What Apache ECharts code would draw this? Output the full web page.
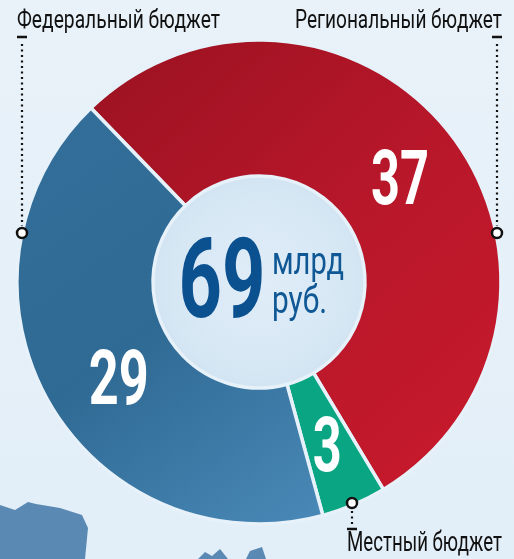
<!DOCTYPE html>
<html><head><meta charset="utf-8">
<script src="https://cdn.jsdelivr.net/npm/echarts@6/dist/echarts.min.js"></script>
<style>html,body{margin:0;padding:0;background:#e4eff8;}#c{width:514px;height:559px;}</style>
</head><body><div id="c"></div>
<script>
const categories = ['Региональный бюджет', 'Местный бюджет', 'Федеральный бюджет'];
const values = [37, 3, 29];
const unitLines = ['млрд', 'руб.'];

const FONT = "Roboto";
const total = values.reduce((a, b) => a + b, 0);
const CX = 259, CY = 282, R = 242, RI = 106;

const colors = [
  {type:'linear',x:0,y:0,x2:1,y2:1,colorStops:[{offset:0,color:'#9a1220'},{offset:0.5,color:'#b8172a'},{offset:1,color:'#c81a2c'}]},
  '#0aa684',
  {type:'linear',x:0,y:0,x2:1,y2:1,colorStops:[{offset:0,color:'#336f9a'},{offset:0.5,color:'#2f6a94'},{offset:1,color:'#4a89b8'}]}
];
// small designer nudges of value labels (px)
const labelNudge = [[3, 9], [0, 10], [11, 17]];
// target ink widths used to emulate the condensed typeface
const labelWidth = [58, 29, 60];

const mctx = document.createElement('canvas').getContext('2d');
function sx(text, font, target) {
  mctx.font = font;
  const w = mctx.measureText(text).width;
  return w > 0 ? target / w : 1;
}
function ctext(text, x, y, size, weight, fill, align, target) {
  const font = weight + ' ' + size + 'px ' + FONT;
  return {type:'text', x:x, y:y, scaleX: sx(text, font, target), z:20,
    style:{text:text, font:font, fill:fill, textAlign:align, textVerticalAlign:'middle'}};
}
function dotted(x, y1, y2) {
  return {type:'line', shape:{x1:x, y1:y1, x2:x, y2:y2}, style:{stroke:'#111', lineWidth:2.2, lineDash:[2, 3.5]}, z:10};
}
function tick(x, y) {
  return {type:'line', shape:{x1:x-5, y1:y, x2:x+5, y2:y}, style:{stroke:'#111', lineWidth:2.5}, z:10};
}
function ring(x, y) {
  return {type:'circle', shape:{cx:x, cy:y, r:5}, style:{fill:'#fff', stroke:'#111', lineWidth:2.5}, z:11};
}

const chart = echarts.init(document.getElementById('c'), null, {renderer:'canvas'});

chart.setOption({
  backgroundColor: {type:'linear',x:0,y:0,x2:0,y2:1,colorStops:[{offset:0,color:'#e9f2f9'},{offset:1,color:'#e2eef8'}]},
  animation: false,
  series: [
    {
      type: 'pie',
      center: [CX, CY],
      radius: [0, RI],
      silent: true,
      z: 1,
      label: {show:false},
      labelLine: {show:false},
      itemStyle: {borderWidth: 0, color: {type:'radial',x:0.5,y:0.5,r:0.5,colorStops:[{offset:0,color:'#e0edf8'},{offset:0.85,color:'#d6e7f4'},{offset:1,color:'#d2e4f2'}]}},
      data: [{value: 1}]
    },
    {
      type: 'pie',
      center: [CX, CY],
      radius: [RI, R],
      startAngle: 134,
      clockwise: true,
      z: 2,
      itemStyle: {borderColor: '#e6f1f9', borderWidth: 3.5},
      label: {show: false},
      labelLine: {show:false},
      data: categories.map((c, i) => ({name: c, value: values[i], itemStyle: {color: colors[i]}}))
    }
  ]
});

// value labels placed from the pie's own layout
const pieData = chart.getModel().getSeriesByIndex(1).getData();
const valueLabels = [];
for (let i = 0; i < values.length; i++) {
  const L = pieData.getItemLayout(i);
  const mid = (L.startAngle + L.endAngle) / 2;
  const rm = (L.r + L.r0) / 2;
  const x = L.cx + Math.cos(mid) * rm + labelNudge[i][0];
  const y = L.cy + Math.sin(mid) * rm + labelNudge[i][1];
  valueLabels.push(ctext(String(values[i]), x, y, 76, 'bold', '#ffffff', 'center', labelWidth[i]));
}

chart.setOption({
  graphic: [
    // background hills
    {type:'polygon', shape:{points:[[0,505],[15,510],[28,502],[36,504],[60,508],[82,515],[88,528],[85,559],[0,559]]}, style:{fill:'#5a8ab4'}, z:0},
    {type:'polygon', shape:{points:[[198,559],[205,552],[212,556],[220,549],[228,559]]}, style:{fill:'#5a8ab4'}, z:0},
    {type:'polygon', shape:{points:[[246,559],[250,551],[262,547],[266,559]]}, style:{fill:'#5a8ab4'}, z:0},
    // center text
    ctext(String(total), 222, 289, 112, 'bold', '#0b5190', 'center', 87),
    ctext(unitLines[0], 272, 264, 38, 'normal', '#0f5895', 'left', 72),
    ctext(unitLines[1], 272, 303, 38, 'normal', '#0f5895', 'left', 55),
    // category captions
    ctext(categories[2], 17, 21, 26, 'normal', '#111', 'left', 203),
    ctext(categories[0], 502, 21, 26, 'normal', '#111', 'right', 207),
    ctext(categories[1], 347, 544, 27, 'normal', '#111', 'left', 155),
    // leader lines
    tick(22, 37), dotted(22, 44, 226), ring(22, 233),
    tick(497, 37), dotted(497, 44, 226), ring(497, 233),
    ring(352, 503), dotted(352, 511, 525), tick(352, 529)
  ].concat(valueLabels)
});
</script>
</body></html>
